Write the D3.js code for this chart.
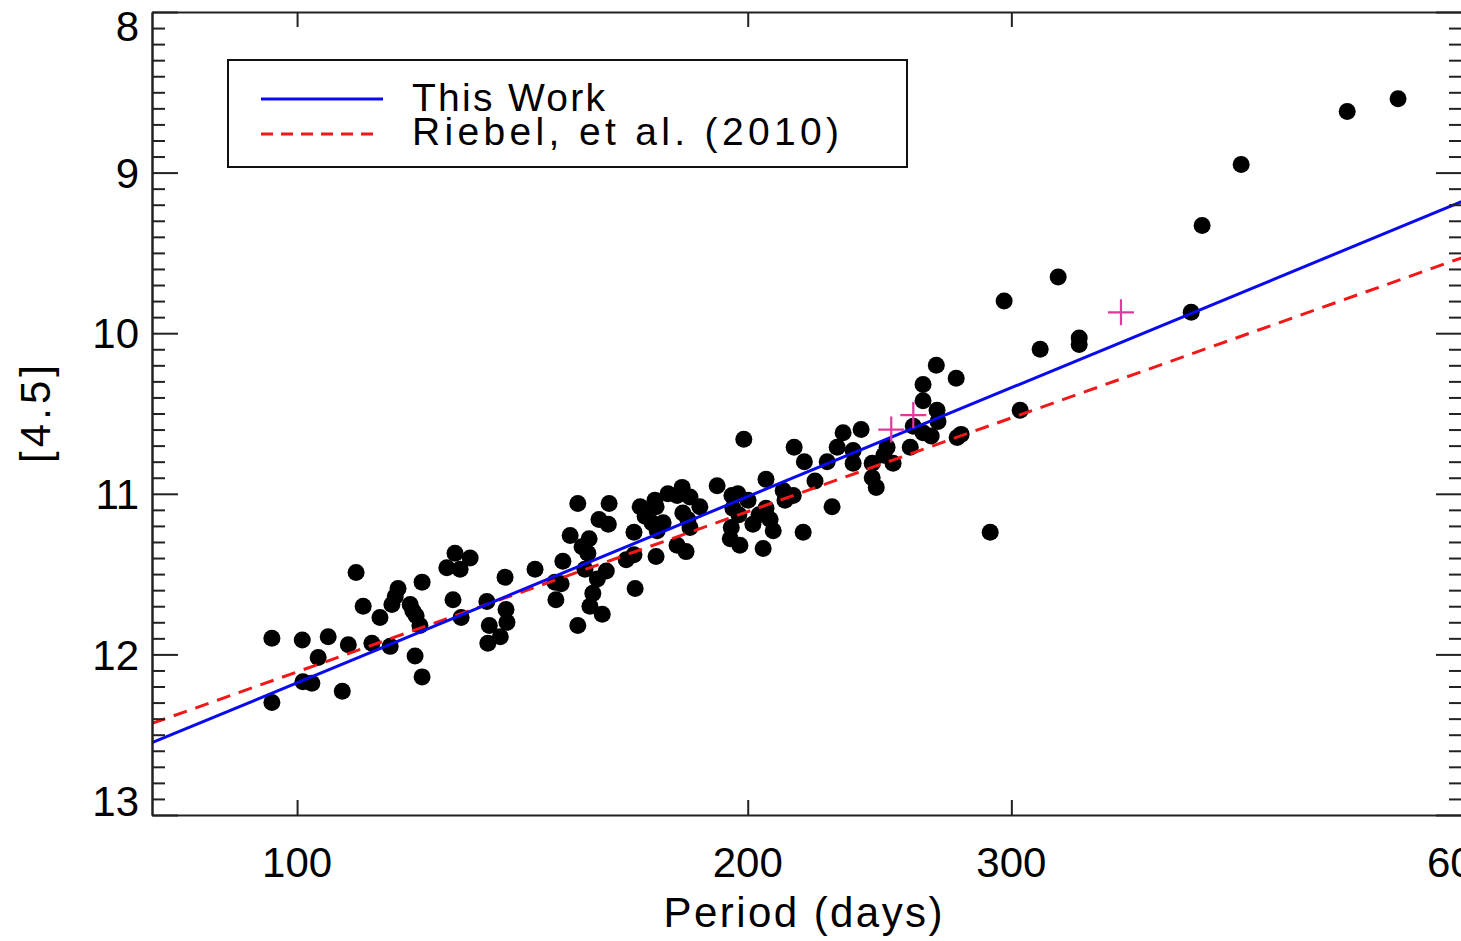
<!DOCTYPE html>
<html>
<head>
<meta charset="utf-8">
<script src="https://cdn.jsdelivr.net/npm/d3@7"></script>
<style>
body { margin: 0; background: #fff; }
svg { display: block; }
</style>
</head>
<body>
<svg id="chart"></svg>
<script>
// [period (days), [4.5] mag]
const stars = [
	[96.2, 11.90], [96.2, 12.30], [100.8, 11.91], [100.9, 12.17], [102.3, 12.18],
	[103.3, 12.02], [104.9, 11.89], [107.2, 12.23], [108.2, 11.94], [109.5, 11.49],
	[110.7, 11.70], [112.2, 11.93], [113.6, 11.77], [115.4, 11.95], [115.7, 11.69],
	[116.3, 11.64], [116.8, 11.59], [119.0, 11.69], [119.5, 11.73], [120.1, 11.76],
	[120.8, 11.82], [119.9, 12.01], [121.2, 12.14], [121.2, 11.55], [125.9, 11.46],
	[127.5, 11.37], [128.5, 11.47], [130.5, 11.40], [127.1, 11.66], [128.7, 11.77],
	[133.9, 11.67], [134.4, 11.82], [134.1, 11.93], [136.7, 11.89], [138.1, 11.80],
	[137.9, 11.72], [137.7, 11.52], [144.2, 11.47], [148.9, 11.66], [148.7, 11.55],
	[150.1, 11.56], [150.5, 11.42], [152.2, 11.26], [154.0, 11.06], [154.0, 11.82],
	[155.0, 11.33], [156.4, 11.37], [156.7, 11.28], [155.7, 11.47], [157.6, 11.62],
	[156.9, 11.70], [159.9, 11.75], [158.7, 11.53], [160.9, 11.48], [159.1, 11.16],
	[161.4, 11.19], [161.6, 11.06], [167.9, 11.24], [168.2, 11.59], [165.9, 11.41],
	[167.9, 11.38], [173.7, 11.39], [169.5, 11.08], [170.8, 11.14], [172.6, 11.18],
	[173.4, 11.04], [173.7, 11.08], [175.6, 11.18], [174.0, 11.23], [176.9, 11.00],
	[179.4, 11.01], [180.8, 10.96], [183.0, 11.02], [181.0, 11.12], [182.4, 11.16],
	[185.8, 11.08], [183.0, 11.21], [179.4, 11.32], [181.9, 11.36], [190.8, 10.95],
	[195.2, 11.01], [197.0, 11.00], [195.5, 11.09], [197.3, 11.13], [195.0, 11.21],
	[194.7, 11.28], [197.6, 11.32], [198.8, 10.66], [200.1, 11.04], [201.6, 11.19],
	[203.5, 11.13], [205.7, 11.09], [207.0, 11.16], [208.0, 11.23], [204.8, 11.34],
	[205.7, 10.91], [211.2, 10.98], [214.5, 11.01], [211.8, 11.04], [217.8, 11.24],
	[214.8, 10.71], [218.2, 10.80], [221.8, 10.92], [226.0, 10.80], [227.7, 11.08],
	[229.5, 10.71], [231.6, 10.62], [235.2, 10.73], [235.2, 10.81], [238.1, 10.60],
	[242.2, 10.81], [242.2, 10.90], [243.7, 10.96], [247.8, 10.71], [246.6, 10.76],
	[250.1, 10.81], [256.8, 10.71], [258.0, 10.58], [261.9, 10.62], [265.2, 10.64],
	[261.9, 10.32], [261.9, 10.42], [267.3, 10.20], [275.6, 10.28], [267.6, 10.48],
	[268.0, 10.55], [276.0, 10.65], [277.7, 10.63], [290.4, 11.24], [296.7, 9.80],
	[304.1, 10.48], [313.6, 10.10], [322.4, 9.65], [333.0, 10.03], [333.0, 10.07],
	[395.6, 9.87], [402.3, 9.33], [427.2, 8.95], [502.9, 8.62], [543.8, 8.54]
];

// magenta plus symbols
const crosses = [[249.4, 10.60], [258.0, 10.51], [355.1, 9.87]];

// fitted P-L relations, end points at the plot edges
const thisWork = [[80, 12.55], [600, 9.18]];
const riebel = [[80, 12.43], [600, 9.53]];

const xTickVals = [100, 200, 300, 600];
const yMajorVals = [8, 9, 10, 11, 12, 13];
const legendLabels = ["This Work", "Riebel, et al. (2010)"];

var w = 1461;
var h = 941;
// plot frame (right edge sits just past the picture, as in the original)
var pLeft = 152, pRight = 1462, pTop = 12, pBottom = 815;
var font = "'Liberation Sans', Arial, sans-serif";
var blue = "#0a0aee", red = "#f01818";

var svg = d3.select("#chart")
	.attr("width", w)
	.attr("height", h);

svg.append("rect")
	.attr("width", w)
	.attr("height", h)
	.attr("fill", "#fff");

var x = d3.scaleLog().domain([80, 600]).range([pLeft, pRight]);
var y = d3.scaleLinear().domain([8, 13]).range([pTop, pBottom]);

svg.append("clipPath")
	.attr("id", "plotclip")
	.append("rect")
	.attr("x", pLeft)
	.attr("y", pTop)
	.attr("width", pRight - pLeft)
	.attr("height", pBottom - pTop);

var plot = svg.append("g").attr("clip-path", "url(#plotclip)");

// stars
plot.selectAll(".star")
	.data(stars)
	.enter()
	.append("circle")
	.attr("class", "star")
	.attr("cx", d => x(d[0]))
	.attr("cy", d => y(d[1]))
	.attr("r", 8.5)
	.attr("fill", "#000");

var line = d3.line()
	.x(d => x(d[0]))
	.y(d => y(d[1]));

plot.append("path")
	.datum(riebel)
	.attr("d", line)
	.attr("fill", "none")
	.attr("stroke", red)
	.attr("stroke-width", 3)
	.attr("stroke-dasharray", "14,9");

plot.append("path")
	.datum(thisWork)
	.attr("d", line)
	.attr("fill", "none")
	.attr("stroke", blue)
	.attr("stroke-width", 3);

plot.selectAll(".cross")
	.data(crosses)
	.enter()
	.append("path")
	.attr("class", "cross")
	.attr("transform", d => "translate(" + x(d[0]) + "," + y(d[1]) + ")")
	.attr("d", "M-13,0H13M0,-13V13")
	.attr("fill", "none")
	.attr("stroke", "#e2389c")
	.attr("stroke-width", 2.2);

// axes, ticks pointing inward like IDL
var minorVals = d3.range(81, 130).filter(v => v % 10 !== 0).map(v => v / 10);

function styleAxis(g) {
	g.selectAll("path, line")
		.attr("stroke", "#222")
		.attr("stroke-width", 2);
	g.selectAll("text").remove();
}

svg.append("g")
	.attr("transform", "translate(" + pLeft + ",0)")
	.call(d3.axisLeft(y).tickValues(yMajorVals).tickSize(-26).tickSizeOuter(0))
	.call(styleAxis);
svg.append("g")
	.attr("transform", "translate(" + pLeft + ",0)")
	.call(d3.axisLeft(y).tickValues(minorVals).tickSize(-13).tickSizeOuter(0))
	.call(styleAxis);
svg.append("g")
	.attr("transform", "translate(" + pRight + ",0)")
	.call(d3.axisRight(y).tickValues(yMajorVals).tickSize(-26).tickSizeOuter(0))
	.call(styleAxis);
svg.append("g")
	.attr("transform", "translate(" + pRight + ",0)")
	.call(d3.axisRight(y).tickValues(minorVals).tickSize(-13).tickSizeOuter(0))
	.call(styleAxis);
svg.append("g")
	.attr("transform", "translate(0," + pBottom + ")")
	.call(d3.axisBottom(x).tickValues(xTickVals).tickSize(-15).tickSizeOuter(0))
	.call(styleAxis);
svg.append("g")
	.attr("transform", "translate(0," + pTop + ")")
	.call(d3.axisTop(x).tickValues(xTickVals).tickSize(-15).tickSizeOuter(0))
	.call(styleAxis);

// tick labels (end labels pulled inside the frame)
svg.selectAll(".ylab")
	.data(yMajorVals)
	.enter()
	.append("text")
	.attr("class", "ylab")
	.attr("x", 139)
	.attr("y", d => Math.min(Math.max(y(d), pTop + 14), pBottom - 14))
	.attr("dy", "0.36em")
	.attr("text-anchor", "end")
	.attr("font-family", font)
	.attr("font-size", 42)
	.text(d => d);

svg.selectAll(".xlab")
	.data(xTickVals)
	.enter()
	.append("text")
	.attr("class", "xlab")
	.attr("x", d => x(d))
	.attr("y", 877)
	.attr("text-anchor", "middle")
	.attr("font-family", font)
	.attr("font-size", 42)
	.text(d => d);

// axis titles
svg.append("text")
	.attr("x", 803)
	.attr("y", 927)
	.attr("text-anchor", "middle")
	.attr("font-family", font)
	.attr("font-size", 42)
	.attr("textLength", 279)
	.attr("lengthAdjust", "spacing")
	.text("Period (days)");

svg.append("text")
	.attr("transform", "translate(50,414) rotate(-90)")
	.attr("text-anchor", "middle")
	.attr("font-family", font)
	.attr("font-size", 42)
	.attr("textLength", 98)
	.attr("lengthAdjust", "spacing")
	.text("[4.5]");

// legend
var legend = svg.append("g");
legend.append("rect")
	.attr("x", 228)
	.attr("y", 60)
	.attr("width", 679)
	.attr("height", 107)
	.attr("fill", "#fff")
	.attr("stroke", "#111")
	.attr("stroke-width", 2);

legend.append("line")
	.attr("x1", 261).attr("x2", 383)
	.attr("y1", 99).attr("y2", 99)
	.attr("stroke", blue)
	.attr("stroke-width", 3);
legend.append("line")
	.attr("x1", 261).attr("x2", 380)
	.attr("y1", 134).attr("y2", 134)
	.attr("stroke", red)
	.attr("stroke-width", 3)
	.attr("stroke-dasharray", "12,8");

var legendWidths = [193, 427];
legend.selectAll(".legtext")
	.data(legendLabels)
	.enter()
	.append("text")
	.attr("class", "legtext")
	.attr("x", 412)
	.attr("y", (d, i) => 111 + i * 34)
	.attr("font-family", font)
	.attr("font-size", 39)
	.attr("textLength", (d, i) => legendWidths[i])
	.attr("lengthAdjust", "spacing")
	.text(d => d);
</script>
</body>
</html>
